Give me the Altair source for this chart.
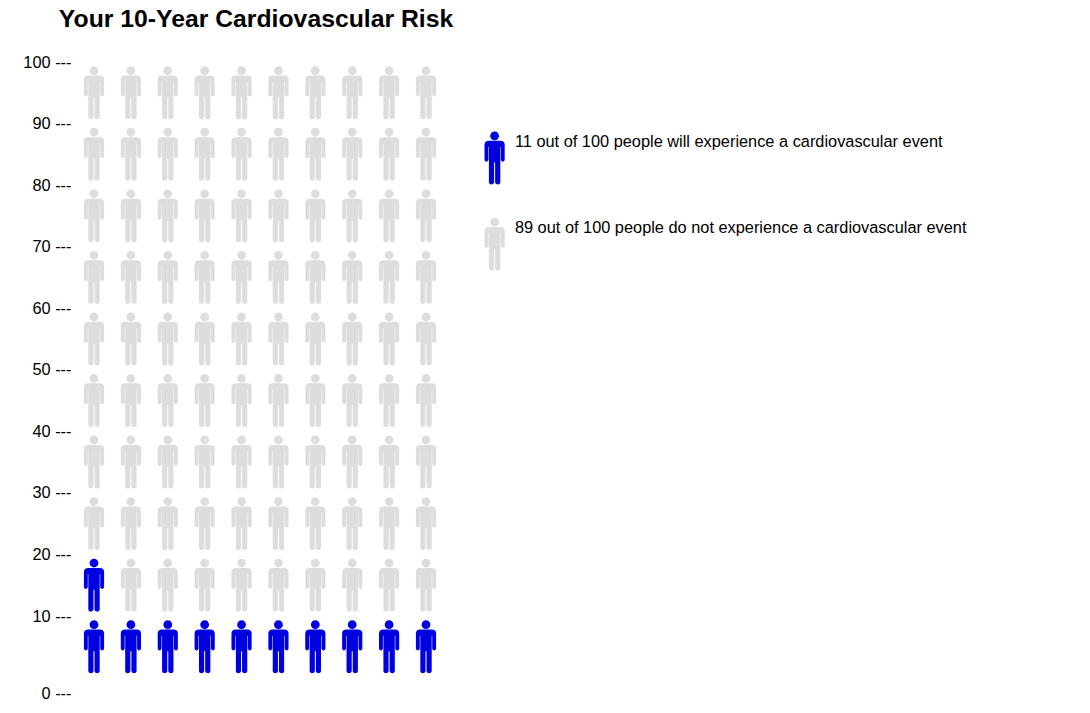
import altair as alt
import pandas as pd

TITLE = "Your 10-Year Cardiovascular Risk"
COLUMNS = [1, 2, 3, 4, 5, 6, 7, 8, 9, 10]
ROWS = [6, 15, 25, 35, 45, 55, 65, 75, 85, 95]
AT_RISK = 11
Y_TICKS = [0, 10, 20, 30, 40, 50, 60, 70, 80, 90, 100]
LEGEND_LABELS = [
    "11 out of 100 people will experience a cardiovascular event",
    "89 out of 100 people do not experience a cardiovascular event",
]
LEGEND_ICON_X = 11.86
LEGEND_ICON_Y = [84.4, 70.4]
LEGEND_TEXT_X = 12.41
LEGEND_TEXT_Y = [87.05, 73.05]
BLUE = "#0000e0"
GREY = "#dddddd"
FONT = "Liberation Sans"


def pt(x, y):
    return f"{x / 26.5:.4f},{(y - 26.5) / 26.5:.4f}"


def person():
    head = (
        f"M{pt(-4.4, 4.4)} A0.166,0.166 0 1,1 {pt(4.4, 4.4)} "
        f"A0.166,0.166 0 1,1 {pt(-4.4, 4.4)} Z"
    )
    right = [
        (6, 9.3), (8.3, 9.8), (9.6, 11), (10.1, 13), (10.1, 28.5), (9.4, 29.8),
        (8.2, 30.3), (7, 29.8), (6.2, 28.5), (6.2, 15.5), (5.7, 15.5), (5.7, 51),
        (4.9, 52.4), (3.3, 53), (1.4, 52.4), (0.5, 51), (0.5, 31), (0, 31),
    ]
    left = [(-x, y) for x, y in reversed(right[:-1])]
    pts = [(0, 9.3)] + right + left
    body = "M" + " L".join(pt(x, y) for x, y in pts) + " Z"
    return head + " " + body


PERSON = person()

icons = pd.DataFrame(
    [
        {"col": c, "row": r, "color": BLUE if i < AT_RISK else GREY}
        for i, (r, c) in enumerate((r, c) for r in ROWS for c in COLUMNS)
    ]
)
legend_icons = pd.DataFrame(
    {"col": [LEGEND_ICON_X] * 2, "row": LEGEND_ICON_Y, "color": [BLUE, GREY]}
)
legend_text = pd.DataFrame(
    {"col": [LEGEND_TEXT_X] * 2, "row": LEGEND_TEXT_Y, "label": LEGEND_LABELS}
)

x_enc = alt.X("col:Q", axis=None, scale=alt.Scale(domain=[1, 10], range=[22, 354]))
y_enc = alt.Y(
    "row:Q",
    title=None,
    scale=alt.Scale(domain=[0, 10, 100], range=[653, 576, 22]),
    axis=alt.Axis(
        values=Y_TICKS,
        domain=False,
        ticks=False,
        grid=False,
        labelFont=FONT,
        labelFontSize=16.35,
        labelColor="#000000",
        labelPadding=1,
        labelExpr="datum.label + ' ---'",
    ),
)


def icon_layer(df):
    return alt.Chart(df).mark_point(
        shape=PERSON, size=2809, filled=True, opacity=1, strokeWidth=0
    ).encode(x=x_enc, y=y_enc, color=alt.Color("color:N", scale=None))


text_layer = alt.Chart(legend_text).mark_text(
    align="left", baseline="middle", font=FONT, fontSize=16.35, color="#000000"
).encode(x=x_enc, y=y_enc, text="label:N")

chart = (
    alt.layer(icon_layer(icons), icon_layer(legend_icons), text_layer)
    .properties(
        width=1000,
        height=660,
        padding={"left": 64, "top": 32, "right": 0, "bottom": 0},
        autosize=alt.AutoSizeParams(type="none"),
        title=alt.TitleParams(
            TITLE, anchor="start", font=FONT, fontSize=24.75, fontWeight="bold",
            color="#000000", dx=36, offset=8,
        ),
    )
    .configure_view(stroke=None)
)

chart.save("out.html", embed_options={"renderer": "svg", "actions": False})
